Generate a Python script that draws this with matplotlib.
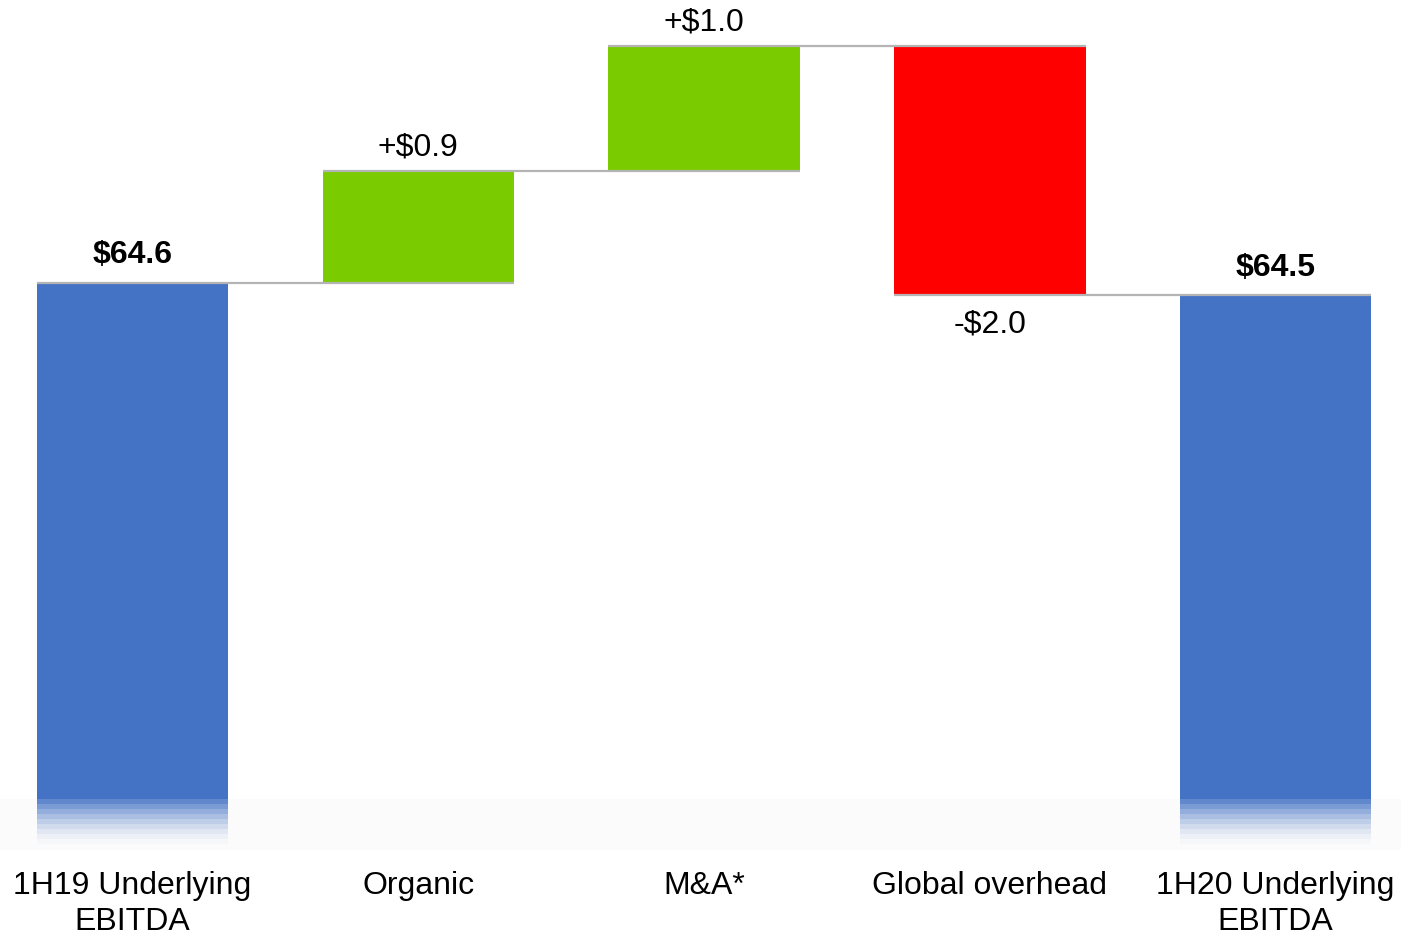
import matplotlib.pyplot as plt
import numpy as np

plt.rcParams['font.family'] = ['Liberation Sans', 'DejaVu Sans']

# --- data ---
categories = ["1H19 Underlying\nEBITDA", "Organic", "M&A*", "Global overhead", "1H20 Underlying\nEBITDA"]
start_value = 64.6
deltas = [0.9, 1.0, -2.0]
end_value = 64.5
value_labels = ["$64.6", "+$0.9", "+$1.0", "-$2.0", "$64.5"]

BLUE = '#4472c4'
GREEN = '#7acc00'
RED = '#ff0000'
LINE = '#b4b4b4'
FS = 23

# axis floor (chart is truncated, bars fade out near the bottom)
Y_MIN = 60.05
Y_MAX = 66.87
BAR_BASE = 60.10
FADE_TOP = 60.46
W = 0.67

fig = plt.figure(figsize=(14.01, 9.32), dpi=100)
ax = fig.add_axes([0, 1 - 850 / 932, 1, 850 / 932])

x = np.arange(len(categories))

# running totals
levels = [start_value]
for d in deltas:
    levels.append(levels[-1] + d)
levels.append(end_value)

# faint band behind the fade
ax.axhspan(Y_MIN, FADE_TOP, color='#fbfbfb', zorder=0)

# total bars with fade at the bottom
n_fade = 9
edges = np.linspace(BAR_BASE, FADE_TOP, n_fade + 1)
for i in (0, len(categories) - 1):
    ax.bar(x[i], levels[i] - FADE_TOP, bottom=FADE_TOP, width=W, color=BLUE, zorder=2)
    for k in range(n_fade):
        a = (k + 1) / (n_fade + 1)
        ax.bar(x[i], edges[k + 1] - edges[k], bottom=edges[k], width=W,
               color=BLUE, alpha=a ** 1.6, linewidth=0, zorder=2)

# delta bars
for j, d in enumerate(deltas):
    i = j + 1
    lo = min(levels[i - 1], levels[i])
    ax.bar(x[i], abs(d), bottom=lo, width=W, color=GREEN if d > 0 else RED, zorder=2)

# connector lines
for i in range(len(categories) - 1):
    ax.plot([x[i] - W / 2, x[i + 1] + W / 2], [levels[i], levels[i]],
            color=LINE, lw=1.6, zorder=3, solid_capstyle='butt')

# value labels
ax.text(x[0], levels[0] + 0.1, value_labels[0], ha='center', va='bottom',
        fontsize=FS, fontweight='bold')
for j, d in enumerate(deltas):
    i = j + 1
    if d > 0:
        ax.text(x[i], levels[i] + 0.07, value_labels[i], ha='center', va='bottom', fontsize=FS)
    else:
        ax.text(x[i], levels[i] - 0.115, value_labels[i], ha='center', va='top', fontsize=FS)
ax.text(x[-1], levels[-1] + 0.1, value_labels[-1], ha='center', va='bottom',
        fontsize=FS, fontweight='bold')

ax.set_xlim(-0.4637, 4.439)
ax.set_ylim(Y_MIN, Y_MAX)
ax.set_xticks(x)
ax.set_xticklabels(categories, fontsize=FS, linespacing=1.25)
ax.tick_params(axis='x', length=0, pad=15)
ax.set_yticks([])
for s in ax.spines.values():
    s.set_visible(False)

fig.savefig('out.png', dpi=100)
